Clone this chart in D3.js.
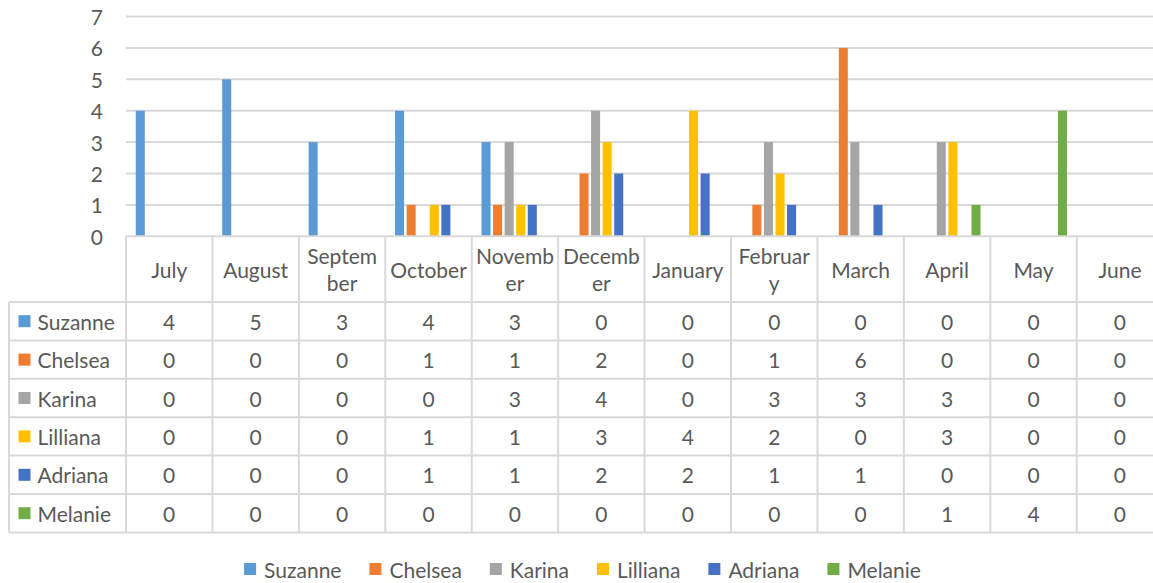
<!DOCTYPE html>
<html>
<head>
<meta charset="utf-8">
<script src="https://cdn.jsdelivr.net/npm/d3@7"></script>
<style>
  html, body { margin: 0; padding: 0; background: #fff; }
  svg { display: block; font-family: Lato, "Open Sans", sans-serif; }
  text { fill: #595959; }
</style>
</head>
<body>
<svg id="chart" width="1153" height="583"></svg>
<script>
// Monthly counts per person, shown as clustered columns plus a data table
const categories = ["July", "August", "September", "October", "November", "December",
                    "January", "February", "March", "April", "May", "June"];
// Header cell text, wrapped the way the narrow table columns break it
const headerLines = [["July"], ["August"], ["Septem", "ber"], ["October"], ["Novemb", "er"],
                     ["Decemb", "er"], ["January"], ["Februar", "y"], ["March"], ["April"],
                     ["May"], ["June"]];
const seriesNames = ["Suzanne", "Chelsea", "Karina", "Lilliana", "Adriana", "Melanie"];
const seriesColors = ["#5B9BD5", "#ED7D31", "#A5A5A5", "#FFC000", "#4472C4", "#70AD47"];

const suzanne  = [4, 5, 3, 4, 3, 0, 0, 0, 0, 0, 0, 0];
const chelsea  = [0, 0, 0, 1, 1, 2, 0, 1, 6, 0, 0, 0];
const karina   = [0, 0, 0, 0, 3, 4, 0, 3, 3, 3, 0, 0];
const lilliana = [0, 0, 0, 1, 1, 3, 4, 2, 0, 3, 0, 0];
const adriana  = [0, 0, 0, 1, 1, 2, 2, 1, 1, 0, 0, 0];
const melanie  = [0, 0, 0, 0, 0, 0, 0, 0, 0, 1, 4, 0];

const yTicks = [0, 1, 2, 3, 4, 5, 6, 7];

const seriesValues = [suzanne, chelsea, karina, lilliana, adriana, melanie];
const series = seriesNames.map((name, i) => ({ name, color: seriesColors[i], values: seriesValues[i] }));

// Layout
const plotLeft = 126, colW = 86.43;
const plotRight = plotLeft + colW * categories.length;
const plotTop = 16.5, plotBottom = 236.3;
const headerBottom = 302, rowH = 38.4;
const tableLeft = 9;
const fontSize = 21;
const gridColor = "#D9D9D9";

const svg = d3.select("#chart");

const x = d3.scaleBand().domain(categories).range([plotLeft, plotRight]).padding(0);
const xs = d3.scaleBand().domain(seriesNames).range([0, x.bandwidth()])
  .paddingInner(0.22).paddingOuter(0.845);
const y = d3.scaleLinear().domain([0, 7]).range([plotBottom, plotTop]);

// Horizontal gridlines
svg.append("g").selectAll("line").data(yTicks.filter(t => t > 0)).join("line")
  .attr("x1", plotLeft).attr("x2", 1153)
  .attr("y1", d => y(d)).attr("y2", d => y(d))
  .attr("stroke", gridColor).attr("stroke-width", 2);

// Value axis labels
svg.append("g").selectAll("text").data(yTicks).join("text")
  .attr("x", 103).attr("y", d => y(d))
  .attr("text-anchor", "end").attr("dominant-baseline", "central")
  .attr("font-size", fontSize)
  .text(d => d);

// Columns
const groups = svg.append("g").selectAll("g").data(series).join("g")
  .attr("fill", d => d.color);
groups.selectAll("rect")
  .data(s => s.values.map((v, i) => ({ name: s.name, cat: categories[i], v })).filter(d => d.v > 0))
  .join("rect")
  .attr("x", d => x(d.cat) + xs(d.name))
  .attr("width", xs.bandwidth())
  .attr("y", d => y(d.v))
  .attr("height", d => y(0) - y(d.v));

// Data table grid
const tableBottom = headerBottom + rowH * series.length;
const grid = svg.append("g").attr("stroke", gridColor).attr("stroke-width", 2);
// top line (category axis)
grid.append("line").attr("x1", plotLeft).attr("x2", 1153).attr("y1", plotBottom).attr("y2", plotBottom);
// row lines
d3.range(series.length + 1).forEach(i => {
  const yy = headerBottom + i * rowH;
  grid.append("line").attr("x1", tableLeft).attr("x2", 1153).attr("y1", yy).attr("y2", yy);
});
// column lines
categories.forEach(c => {
  grid.append("line").attr("x1", x(c)).attr("x2", x(c)).attr("y1", plotBottom).attr("y2", tableBottom);
});
grid.append("line").attr("x1", plotRight).attr("x2", plotRight).attr("y1", plotBottom).attr("y2", tableBottom);
grid.append("line").attr("x1", tableLeft).attr("x2", tableLeft).attr("y1", headerBottom).attr("y2", tableBottom);

// Header labels
const headerMid = (plotBottom + headerBottom) / 2;
const lineGap = 27;
svg.append("g").selectAll("text").data(categories).join("text")
  .attr("x", d => x(d) + x.bandwidth() / 2)
  .attr("text-anchor", "middle")
  .attr("font-size", fontSize)
  .each(function(d, i) {
    const lines = headerLines[i];
    const t = d3.select(this);
    lines.forEach((ln, k) => {
      t.append("tspan")
        .attr("x", x(d) + x.bandwidth() / 2)
        .attr("y", headerMid + (k - (lines.length - 1) / 2) * lineGap)
        .attr("dominant-baseline", "central")
        .text(ln);
    });
  });

// Row labels with colour keys, and values
series.forEach((s, r) => {
  const cy = headerBottom + r * rowH + rowH / 2;
  svg.append("rect").attr("x", 18.5).attr("y", cy - 6).attr("width", 12).attr("height", 12).attr("fill", s.color);
  svg.append("text").attr("x", 37.5).attr("y", cy).attr("dominant-baseline", "central")
    .attr("font-size", fontSize).text(s.name);
  svg.append("g").selectAll("text").data(s.values).join("text")
    .attr("x", (d, i) => x(categories[i]) + x.bandwidth() / 2)
    .attr("y", cy)
    .attr("text-anchor", "middle").attr("dominant-baseline", "central")
    .attr("font-size", fontSize)
    .text(d => d);
});

// Legend
const legendGap = 28;
const legend = svg.append("g");
let lx = 0;
series.forEach((s, i) => {
  const item = legend.append("g").attr("transform", `translate(${lx},0)`);
  item.append("rect").attr("x", 0).attr("y", -6).attr("width", 12).attr("height", 12).attr("fill", s.color);
  const t = item.append("text").attr("x", 20).attr("y", 0).attr("dominant-baseline", "central")
    .attr("font-size", fontSize).text(s.name);
  lx += 20 + t.node().getComputedTextLength() + legendGap;
});
const legendW = lx - legendGap;
legend.attr("transform", `translate(${582.5 - legendW / 2},569)`);
</script>
</body>
</html>
